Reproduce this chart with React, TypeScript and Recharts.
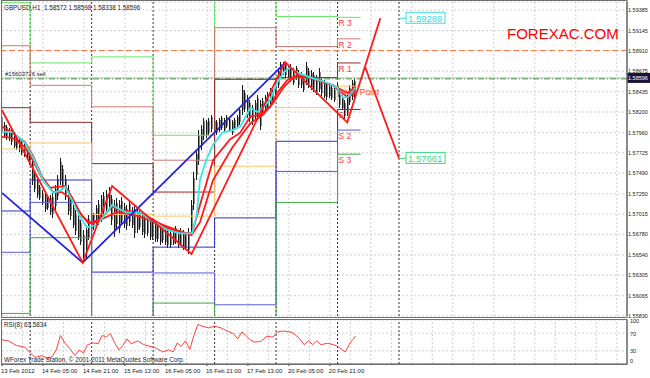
import React from 'react';
import { ComposedChart, Bar, Line, XAxis, YAxis, CartesianGrid, ReferenceLine, ReferenceDot } from 'recharts';

// hourly bars, GBPUSD H1 (index 0 = 13 Feb 13:00)
const barHigh = [
  1.5818, 1.5808, 1.5805, 1.5801, 1.5803, 1.5797, 1.5793, 1.5790, 1.5788, 1.5786,
  1.5782, 1.5776, 1.5764, 1.5750, 1.5743, 1.5735, 1.5729, 1.5727, 1.5724, 1.5724,
  1.5726, 1.5735, 1.5747, 1.5767, 1.5758, 1.5747, 1.5735, 1.5724, 1.5712, 1.5706,
  1.5700, 1.5695, 1.5683, 1.5689, 1.5700, 1.5704, 1.5703, 1.5712, 1.5718, 1.5724,
  1.5727, 1.5729, 1.5733, 1.5724, 1.5718, 1.5720, 1.5718, 1.5721, 1.5714, 1.5712,
  1.5718, 1.5710, 1.5712, 1.5708, 1.5706, 1.5704, 1.5700, 1.5700, 1.5697, 1.5695,
  1.5692, 1.5689, 1.5691, 1.5689, 1.5688, 1.5685, 1.5683, 1.5685, 1.5688, 1.5683,
  1.5685, 1.5683, 1.5680, 1.5685, 1.5718, 1.5750, 1.5776, 1.5799, 1.5805, 1.5813,
  1.5811, 1.5813, 1.5817, 1.5813, 1.5811, 1.5813, 1.5815, 1.5813, 1.5817, 1.5814,
  1.5811, 1.5813, 1.5817, 1.5825, 1.5851, 1.5846, 1.5840, 1.5834, 1.5828, 1.5834,
  1.5840, 1.5834, 1.5836, 1.5840, 1.5843, 1.5848, 1.5846, 1.5860, 1.5871, 1.5878,
  1.5878, 1.5877, 1.5875, 1.5876, 1.5871, 1.5874, 1.5869, 1.5867, 1.5863, 1.5878,
  1.5871, 1.5869, 1.5867, 1.5863, 1.5871, 1.5860, 1.5857, 1.5855, 1.5851, 1.5851,
  1.5848, 1.5855, 1.5846, 1.5840, 1.5834, 1.5840, 1.5851, 1.5857, 1.5860,
];
const barLow = [
  1.5793, 1.5790, 1.5788, 1.5786, 1.5782, 1.5778, 1.5776, 1.5774, 1.5770, 1.5768,
  1.5764, 1.5758, 1.5735, 1.5727, 1.5720, 1.5718, 1.5712, 1.5704, 1.5706, 1.5700,
  1.5697, 1.5706, 1.5718, 1.5735, 1.5729, 1.5718, 1.5700, 1.5695, 1.5685, 1.5677,
  1.5671, 1.5665, 1.5645, 1.5650, 1.5671, 1.5680, 1.5683, 1.5685, 1.5689, 1.5692,
  1.5700, 1.5704, 1.5706, 1.5689, 1.5675, 1.5685, 1.5680, 1.5689, 1.5685, 1.5683,
  1.5688, 1.5685, 1.5674, 1.5680, 1.5683, 1.5677, 1.5674, 1.5676, 1.5671, 1.5671,
  1.5669, 1.5669, 1.5665, 1.5668, 1.5665, 1.5662, 1.5662, 1.5665, 1.5667, 1.5662,
  1.5664, 1.5660, 1.5660, 1.5655, 1.5677, 1.5706, 1.5741, 1.5758, 1.5776, 1.5788,
  1.5790, 1.5793, 1.5797, 1.5793, 1.5793, 1.5797, 1.5799, 1.5796, 1.5801, 1.5797,
  1.5793, 1.5799, 1.5801, 1.5805, 1.5817, 1.5820, 1.5813, 1.5808, 1.5805, 1.5811,
  1.5813, 1.5799, 1.5817, 1.5820, 1.5822, 1.5825, 1.5828, 1.5834, 1.5848, 1.5860,
  1.5863, 1.5860, 1.5857, 1.5855, 1.5851, 1.5857, 1.5848, 1.5848, 1.5843, 1.5851,
  1.5848, 1.5846, 1.5843, 1.5840, 1.5843, 1.5839, 1.5836, 1.5834, 1.5836, 1.5834,
  1.5832, 1.5834, 1.5825, 1.5822, 1.5812, 1.5815, 1.5828, 1.5834, 1.5834,
];

// moving averages (bar index / price)
const cyanIdx = [0, 4, 9, 12, 16, 20, 22.7, 24.6, 27.3, 30.5, 33.2, 37, 39.5, 43, 45.3, 48.8, 54, 57.8, 64.5, 69.5, 74.2, 76, 77.3, 79.7, 82.4, 86, 90, 93, 95, 97, 99.6, 102, 104.7, 107.4, 110, 112.5, 115, 121.5, 127, 131, 133, 135, 138];
const cyanVal = [1.5797, 1.5797, 1.5784, 1.5768, 1.5741, 1.5726, 1.5729, 1.5733, 1.5718, 1.5698, 1.5686, 1.5689, 1.5698, 1.5712, 1.5708, 1.5703, 1.5703, 1.5695, 1.5683, 1.5679, 1.5679, 1.5700, 1.5741, 1.5764, 1.5782, 1.5796, 1.5799, 1.5803, 1.5814, 1.5825, 1.5820, 1.5826, 1.5834, 1.5854, 1.5866, 1.5872, 1.5866, 1.5859, 1.5854, 1.5848, 1.5837, 1.5837, 1.5848];
const redFastIdx = [0, 4, 9, 12, 15.6, 18.8, 22, 24.6, 27.3, 30.5, 33.6, 38.3, 43, 46, 54, 59, 64.5, 69.5, 74.2, 77.3, 82.4, 89, 93, 97, 100.8, 104.7, 107.4, 111.3, 115.2, 120.3, 129.3, 134.8, 138];
const redFastVal = [1.5803, 1.5796, 1.5785, 1.5770, 1.5745, 1.5732, 1.5733, 1.5734, 1.5721, 1.5703, 1.5691, 1.5695, 1.5710, 1.5706, 1.5703, 1.5695, 1.5685, 1.5680, 1.5679, 1.5712, 1.5764, 1.5788, 1.5796, 1.5815, 1.5817, 1.5826, 1.5842, 1.5857, 1.5863, 1.5860, 1.5851, 1.5842, 1.5849];
const redSlowIdx = [0, 4, 9, 12, 16, 20, 23.4, 27.3, 31.3, 35, 40, 45, 52, 60, 68, 74, 77.3, 82.4, 90, 97, 102, 106, 110, 113.7, 119, 129, 135, 138];
const redSlowVal = [1.5791, 1.5790, 1.5779, 1.5764, 1.5741, 1.5727, 1.5727, 1.5718, 1.5699, 1.5690, 1.5697, 1.5704, 1.5700, 1.5692, 1.5683, 1.5677, 1.5692, 1.5741, 1.5779, 1.5807, 1.5817, 1.5831, 1.5849, 1.5860, 1.5861, 1.5851, 1.5837, 1.5843];

// zigzags
const zigRedIdx = [0, 31.5, 43, 74, 110.5, 134.8, 147.7];
const zigRedVal = [1.5822, 1.5645, 1.5734, 1.5655, 1.5878, 1.5808, 1.5929];
const projIdx = [141.8, 155];
const projVal = [1.5872, 1.57661];
const zigBlueIdx = [0, 31.5, 110.5];
const zigBlueVal = [1.5726, 1.5645, 1.5877];

// daily pivot levels: 13,14,15,16,17,20,21 Feb
const dayStart = [0, 11, 35, 59, 83, 107, 131];
const dayEnd = [11, 35, 59, 83, 107, 131, 140];
const r3 = [1.5947, 1.5877, 1.5884, 1.5793, 1.6019, 1.5931, 1.5930];
const r2 = [1.5897, 1.5851, 1.5826, 1.5764, 1.5918, 1.5896, 1.5905];
const r1 = [1.5825, 1.5808, 1.5760, 1.5727, 1.5858, 1.5860, 1.5877];
const pp = [1.5777, 1.5784, 1.5701, 1.5699, 1.5757, 1.5825, 1.5850];
const s1 = [1.5705, 1.5741, 1.5634, 1.5663, 1.5697, 1.5786, 1.5823];
const s2 = [1.5657, 1.5715, 1.5577, 1.5633, 1.5596, 1.5751, 1.5799];
const s3 = [1.5586, 1.5674, 1.5511, 1.5598, 1.5537, 1.5715, 1.5771];

const rsiIdx = [0, 2.5, 5.7, 9, 11.4, 13, 15.5, 17.9, 19.6, 21.2, 22.8, 24.5, 26.9, 28.5, 30.1, 31.8, 33.4, 35.8, 37.5, 39.1, 40.7, 42.3, 44, 45.6, 47.2, 48.8, 50.5, 52.9, 55.4, 57.8, 60.3, 62.7, 65.1, 66.8, 68.4, 70, 71.6, 73.3, 74.9, 76.5, 78.1, 80.6, 83, 85.5, 87.9, 90.4, 92, 93.6, 95.2, 96.9, 98.5, 100.9, 103.4, 105.8, 107.5, 109.9, 113.2, 115.6, 118, 119.7, 121.3, 122.9, 124.5, 127, 129.4, 131, 132.7, 134, 135.5, 136.5, 137.5, 138];
const rsiVal = [55, 52.5, 42, 38, 23, 15, 19, 12.5, 17, 32, 65, 48, 32, 19, 32, 25, 44, 48, 46, 65, 61, 69, 48, 32, 42, 57, 46, 52.5, 44, 40, 36, 27.5, 32, 27.5, 48, 40, 52.5, 33, 65, 90, 86, 82, 86, 82, 75, 69, 57, 73, 65, 55, 50, 51, 63, 61, 73, 75, 72, 61, 44, 52.5, 44, 52.5, 44, 47, 44, 40, 33, 27.5, 44, 52.5, 59, 63.58];
const rsiTicks = [0, 30, 70, 100];

const priceTicks = [1.5583, 1.56065, 1.56305, 1.5654, 1.5678, 1.57015, 1.5725, 1.5749, 1.57725, 1.5796, 1.582, 1.58435, 1.58675, 1.5891, 1.59145, 1.59385];
const timeIdx = [0, 16, 32, 48, 64, 80, 96, 112, 128];
const timeLabels = ['13 Feb 2012', '14 Feb 05:00', '14 Feb 21:00', '15 Feb 13:00', '16 Feb 05:00', '16 Feb 21:00', '17 Feb 13:00', '20 Feb 05:00', '20 Feb 21:00'];
const gridIdx = Array.from({ length: 31 }, (_, k) => k * 8);
const daySeparators = [11, 35, 59, 83, 107, 131, 155];

const bidPrice = 1.58596;
const orderPrice = 1.58585;
const stopPrice = 1.58915;
const targetUp = 1.59289;
const targetDown = 1.57661;

const FONT = '"Liberation Sans", Arial, sans-serif';

const barData = barHigh.map((h, i) => ({ x: i, hl: [barLow[i], h] }));
const pts = (idx: number[], val: number[]) => idx.map((x, i) => ({ x, y: val[i] }));
const steps = (vals: number[]) => vals.flatMap((v, d) => [{ x: dayStart[d], y: v }, { x: dayEnd[d], y: v }]);

const levels = [
  { name: 'R 3', vals: r3, color: '#66e866' },
  { name: 'R 2', vals: r2, color: '#cc7a70' },
  { name: 'R 1', vals: r1, color: '#8b2a2a' },
  { name: 'Pivot Point', vals: pp, color: '#ffc66a' },
  { name: 'S 1', vals: s1, color: '#3030c8' },
  { name: 'S 2', vals: s2, color: '#5a5ad0' },
  { name: 'S 3', vals: s3, color: '#3fa83f' },
];

const PriceTick = ({ x, y, payload }: any) => (
  <text x={x} y={y + 2} fontSize={5.5} fontFamily={FONT} fill="#222">{payload.value.toFixed(5)}</text>
);

const RsiTick = ({ x, y, payload }: any) => (
  <text x={x} y={payload.value === 0 ? y - 1 : y + 2.5} fontSize={5.5} fontFamily={FONT} fill="#222">{payload.value}</text>
);

const TimeTick = ({ x, y, payload }: any) => {
  const k = timeIdx.indexOf(payload.value);
  return (
    <text x={x - 1} y={y + 5} fontSize={6} fontFamily={FONT} fill="#222">{timeLabels[k]}</text>
  );
};

// high-low bar: dark stem with a grey edge, like the small candles
const HLBar = (p: any) => {
  const cx = Math.round(p.x + p.width / 2);
  const h = Math.max(p.height, 1);
  return (
    <g shapeRendering="crispEdges">
      <rect x={cx - 1} y={p.y} width={1} height={h} fill="#1a1a1a" />
      <rect x={cx} y={p.y + h * 0.15} width={1} height={h * 0.7} fill="#8a8a8a" />
    </g>
  );
};

const TargetBox = (color: string, text: string) => (p: any) => (
  <g>
    <line x1={p.cx} x2={p.cx + 7} y1={p.cy} y2={p.cy} stroke={color} />
    <rect x={p.cx + 7} y={p.cy - 6} width={39} height={11} fill="#fff" stroke={color} />
    <text x={p.cx + 9} y={p.cy + 3.5} fontSize={9.5} fontFamily={FONT} fill={color}>{text}</text>
  </g>
);

const App = () => {
  return (
    <div style={{ position: 'relative', width: 650, height: 378, background: '#fff', overflow: 'hidden' }}>
      <style>{'body{margin:0}'}</style>
      <div style={{ position: 'absolute', left: 0, top: 0 }}>
        <ComposedChart width={650} height={318} data={barData} margin={{ top: 2, right: 0, bottom: 2, left: 2 }}>
          <CartesianGrid stroke="#cfcfcf" strokeDasharray="2 2" />
          <XAxis dataKey="x" type="number" domain={[0, 244]} ticks={gridIdx} hide allowDataOverflow />
          <YAxis orientation="right" width={23} type="number" domain={[1.5583, 1.59478]} ticks={priceTicks} interval={0}
            allowDataOverflow tick={PriceTick} tickLine={false} tickSize={0} tickMargin={1} axisLine={{ stroke: '#555' }} />
          {daySeparators.map((d) => (
            <ReferenceLine key={d} x={d} stroke="#333" strokeDasharray="2 2" />
          ))}
          <ReferenceLine y={stopPrice} stroke="#ff7a50" strokeDasharray="6 3" />
          <ReferenceLine y={bidPrice} stroke="#b8b8b8"
            label={(p: any) => (
              <g>
                <rect x={p.viewBox.x + p.viewBox.width} y={p.viewBox.y - 5} width={23} height={10} fill="#1c1238" />
                <text x={p.viewBox.x + p.viewBox.width + 1} y={p.viewBox.y + 2} fontSize={5.5} fontFamily={FONT} fill="#fff">{bidPrice.toFixed(5)}</text>
              </g>
            )} />
          <ReferenceLine y={orderPrice} stroke="#3a9a3a" strokeDasharray="6 2 1 2"
            label={(p: any) => (
              <text x={p.viewBox.x + 3} y={p.viewBox.y - 3} fontSize={6} fontFamily={FONT} fill="#222">#15603726 sell</text>
            )} />
          {levels.map((l) => (
            <Line key={l.name} data={steps(l.vals)} dataKey="y" stroke={l.color} strokeWidth={1} dot={false} isAnimationActive={false} />
          ))}
          <Bar dataKey="hl" fill="#222" barSize={2} shape={HLBar} isAnimationActive={false} />
          <Line data={pts(redSlowIdx, redSlowVal)} dataKey="y" stroke="#ff1a1a" strokeWidth={1.8} dot={false} isAnimationActive={false} />
          <Line data={pts(redFastIdx, redFastVal)} dataKey="y" stroke="#ff1a1a" strokeWidth={1.8} dot={false} isAnimationActive={false} />
          <Line data={pts(cyanIdx, cyanVal)} dataKey="y" stroke="#33e8e8" strokeWidth={1.8} dot={false} isAnimationActive={false} />
          <Line data={pts(zigBlueIdx, zigBlueVal)} dataKey="y" stroke="#2424e0" strokeWidth={1.8} dot={false} isAnimationActive={false} />
          <Line data={pts(zigRedIdx, zigRedVal)} dataKey="y" stroke="#ff1a1a" strokeWidth={1.8} dot={false} isAnimationActive={false} />
          <Line data={pts(projIdx, projVal)} dataKey="y" stroke="#ff1a1a" strokeWidth={1.8} dot={false} isAnimationActive={false} />
          {levels.map((l) => (
            <ReferenceDot key={'lab' + l.name} x={dayStart[6]} y={l.vals[6]} r={0}
              shape={(p: any) => (
                <text x={p.cx + 1} y={p.cy + 9} fontSize={8.5} fontFamily={FONT} fill="#ff3b3b">{l.name}</text>
              )} />
          ))}
          <ReferenceDot x={daySeparators[6]} y={targetUp} r={0} shape={TargetBox('#38e0e0', targetUp.toFixed(5))} />
          <ReferenceDot x={daySeparators[6]} y={targetDown} r={0} shape={TargetBox('#3ad884', targetDown.toFixed(5))} />
        </ComposedChart>
      </div>
      <div style={{ position: 'absolute', left: 0, top: 318 }}>
        <ComposedChart width={650} height={60} margin={{ top: 2, right: 0, bottom: 0, left: 2 }}>
          <CartesianGrid stroke="#cfcfcf" strokeDasharray="2 2" vertical={false} />
          <XAxis dataKey="x" type="number" domain={[0, 244]} ticks={timeIdx} interval={0} height={14}
            tick={TimeTick} tickLine={{ stroke: '#333' }} tickSize={2} axisLine={{ stroke: '#555' }} allowDataOverflow />
          <YAxis orientation="right" width={23} type="number" domain={[0, 100]} ticks={rsiTicks} interval={0}
            tick={RsiTick} tickLine={false} tickSize={0} tickMargin={3} axisLine={{ stroke: '#555' }} />
          {gridIdx.map((g) => (
            <ReferenceLine key={'g' + g} x={g} stroke="#cfcfcf" strokeDasharray="2 2" />
          ))}
          {daySeparators.map((d) => (
            <ReferenceLine key={d} x={d} stroke="#333" strokeDasharray="2 2" />
          ))}
          <Line data={pts(rsiIdx, rsiVal)} dataKey="y" stroke="#ff4040" strokeWidth={1} dot={false} isAnimationActive={false} />
        </ComposedChart>
      </div>
      <svg width={650} height={378} style={{ position: 'absolute', left: 0, top: 0, pointerEvents: 'none' }}>
        <rect x={1.5} y={0.5} width={625.5} height={317} fill="none" stroke="#707070" />
        <rect x={1.5} y={319.5} width={625.5} height={45} fill="none" stroke="#707070" />
        <text x={4} y={10} fontSize={6.3} fontFamily={FONT} fill="#222" style={{ whiteSpace: 'pre' }}>GBPUSD,H1  1.58572 1.58598 1.58338 1.58596</text>
        <text x={507} y={39} fontSize={15} fontFamily={FONT} fill="#ff0000">FOREXAC.COM</text>
        <text x={4} y={327} fontSize={6.3} fontFamily={FONT} fill="#222">RSI(8) 63.5834</text>
        <text x={4} y={362} fontSize={6.3} fontFamily={FONT} fill="#222">WForex Trade Station, © 2001-2011 MetaQuotes Software Corp.</text>
      </svg>
    </div>
  );
};

export default App;
